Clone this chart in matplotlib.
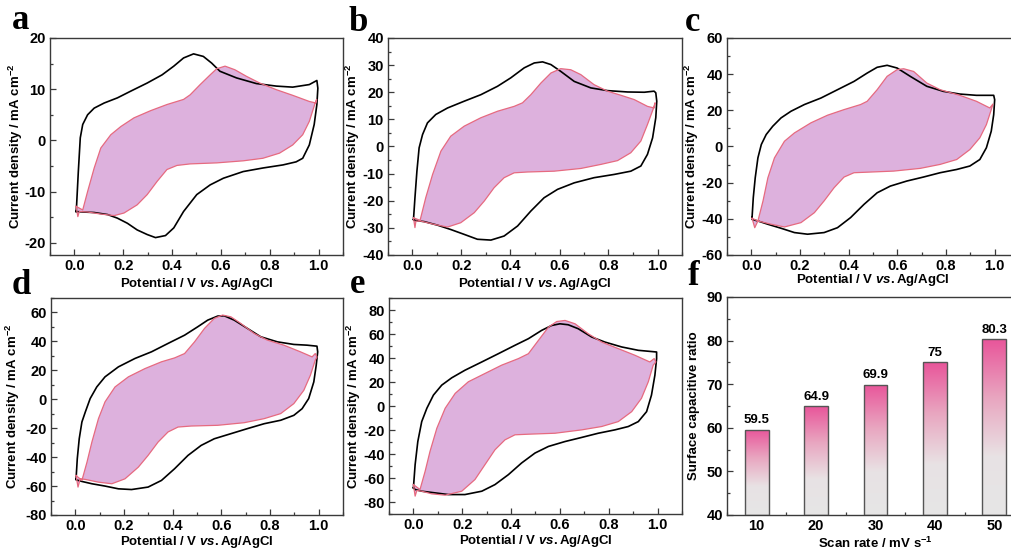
import numpy as np
import matplotlib
matplotlib.use("Agg")
import matplotlib.pyplot as plt
from matplotlib.colors import LinearSegmentedColormap
from matplotlib.ticker import MultipleLocator

plt.rcParams['font.family'] = ['Liberation Sans', 'DejaVu Sans']
plt.rcParams['font.weight'] = 'bold'
plt.rcParams['axes.unicode_minus'] = False
plt.rcParams['mathtext.fontset'] = 'custom'
plt.rcParams['mathtext.default'] = 'regular'
plt.rcParams['mathtext.it'] = 'Liberation Sans:italic:bold'
plt.rcParams['mathtext.rm'] = 'Liberation Sans:bold'
plt.rcParams['mathtext.bf'] = 'Liberation Sans:bold'

# ---------------- data ----------------
a_black_x = [0.007,0.009,0.016,0.024,0.034,0.054,0.081,0.122,0.176,0.230,0.298,0.359,0.407,0.447,0.488,0.528,0.562,0.596,0.664,0.745,0.827,0.894,0.962,0.993,
             0.997,0.993,0.982,0.962,0.935,0.908,0.854,0.772,0.691,0.610,0.556,0.501,0.447,0.407,0.373,0.332,0.298,0.257,0.217,0.176,0.136,0.081,0.034,0.007]
a_black_y = [-13.9,-12.6,-6.1,0.5,3.1,5.0,6.3,7.3,8.3,9.6,11.2,12.8,14.5,16.1,16.9,16.4,15.1,13.5,12.2,11.1,10.6,10.4,10.9,11.7,
             10.2,7.0,3.1,-0.9,-3.5,-4.2,-4.8,-5.4,-6.1,-7.4,-8.7,-10.6,-13.9,-17.1,-18.6,-19.0,-18.4,-17.5,-16.2,-15.2,-14.5,-14.1,-14.0,-13.9]
a_pink_x = [0.007,0.034,0.054,0.081,0.108,0.149,0.190,0.244,0.312,0.379,0.447,0.474,0.515,0.556,0.583,0.617,0.657,0.705,0.759,0.827,0.894,0.962,0.989,0.992,
            0.986,0.962,0.935,0.894,0.840,0.772,0.691,0.583,0.474,0.420,0.379,0.339,0.298,0.257,0.203,0.163,0.108,0.054,0.020,0.014,0.007]
a_pink_y = [-12.9,-13.6,-10.0,-5.4,-1.5,1.1,2.7,4.4,5.8,7.0,8.0,8.9,10.9,12.8,14.0,14.5,13.8,12.5,11.2,9.9,8.8,7.6,7.3,8.0,
            7.3,3.7,1.1,-0.9,-2.5,-3.5,-4.0,-4.4,-4.6,-4.9,-5.7,-8.0,-10.6,-12.6,-14.2,-14.7,-14.4,-14.0,-13.9,-14.9,-12.9]

b_black_x = [0.004,0.010,0.018,0.027,0.041,0.061,0.095,0.143,0.211,0.279,0.347,0.401,0.456,0.497,0.531,0.565,0.605,0.660,0.728,0.796,0.878,0.946,0.986,0.993,
             0.997,0.993,0.980,0.959,0.932,0.891,0.823,0.741,0.660,0.592,0.537,0.483,0.429,0.374,0.320,0.265,0.211,0.156,0.102,0.048,0.007]
b_black_y = [-26.9,-18.9,-9.1,-0.5,4.4,8.7,11.8,14.2,16.7,19.1,22.2,25.3,29.0,30.8,31.2,30.2,27.7,24.0,21.6,20.6,20.1,20.0,20.4,19.8,
             16.7,10.6,3.2,-2.9,-7.2,-9.1,-10.3,-11.5,-13.4,-15.8,-18.9,-23.8,-29.3,-33.0,-34.5,-34.2,-32.4,-30.6,-29.0,-27.7,-27.2]
b_pink_x = [0.004,0.031,0.054,0.082,0.116,0.156,0.211,0.279,0.347,0.415,0.449,0.483,0.524,0.565,0.605,0.646,0.687,0.741,0.796,0.850,0.905,0.959,0.986,0.990,
            0.984,0.959,0.932,0.891,0.837,0.769,0.687,0.578,0.469,0.415,0.374,0.333,0.293,0.252,0.197,0.143,0.088,0.034,0.014,0.010,0.004]
b_pink_y = [-26.3,-27.2,-18.9,-10.3,-1.7,3.8,7.5,10.6,13.0,14.8,16.1,19.1,23.4,27.1,28.7,28.3,26.5,22.8,20.4,18.9,17.3,14.8,14.2,16.1,
            14.2,8.1,2.0,-2.3,-5.2,-6.6,-8.1,-9.1,-9.4,-9.7,-11.5,-15.2,-20.1,-24.4,-28.1,-29.7,-28.7,-27.5,-27.5,-29.9,-26.3]

c_black_x = [0.003,0.008,0.016,0.027,0.041,0.061,0.088,0.122,0.163,0.218,0.286,0.354,0.422,0.476,0.517,0.558,0.599,0.653,0.721,0.789,0.857,0.925,0.996,
             1.0,0.996,0.986,0.966,0.939,0.898,0.844,0.776,0.707,0.639,0.571,0.517,0.463,0.408,0.354,0.299,0.231,0.177,0.122,0.068,0.027,0.003]
c_black_y = [-39.3,-28.3,-17.3,-6.3,1.1,6.6,11.2,15.8,19.5,23.2,26.8,31.4,36.0,40.6,43.8,44.9,43.4,38.8,33.3,30.5,29.0,28.3,28.3,
             25.9,17.6,8.5,-0.7,-7.2,-10.8,-12.7,-14.5,-16.9,-19.1,-21.9,-25.6,-32.0,-39.3,-44.9,-47.6,-48.5,-47.6,-45.2,-43.0,-41.2,-40.3]
c_pink_x = [0.003,0.027,0.048,0.068,0.095,0.136,0.177,0.245,0.313,0.381,0.449,0.476,0.517,0.558,0.599,0.626,0.667,0.721,0.776,0.857,0.925,0.980,0.993,
            0.986,0.966,0.939,0.898,0.844,0.776,0.694,0.585,0.476,0.422,0.381,0.340,0.299,0.259,0.204,0.136,0.082,0.027,0.014,0.003]
c_pink_y = [-39.7,-41.2,-30.1,-17.3,-6.3,2.9,7.5,13.1,17.3,20.4,23.2,25.0,31.4,38.8,42.5,43.0,41.5,35.1,31.4,28.3,25.0,21.3,23.5,
            20.4,12.1,4.8,-1.7,-7.2,-9.9,-12.1,-13.6,-14.2,-14.5,-16.9,-22.8,-30.1,-36.6,-42.1,-44.5,-43.0,-41.2,-44.9,-39.7]

d_black_x = [0.003,0.008,0.016,0.027,0.041,0.061,0.088,0.122,0.177,0.245,0.313,0.381,0.449,0.503,0.544,0.585,0.612,0.653,0.707,0.762,0.830,0.898,0.952,0.993,
             0.996,0.990,0.980,0.959,0.932,0.898,0.844,0.776,0.707,0.639,0.571,0.517,0.463,0.408,0.354,0.299,0.231,0.177,0.122,0.068,0.027,0.003]
d_black_y = [-55.0,-41.1,-27.3,-15.7,-8.8,0.5,8.5,15.5,22.4,28.2,32.8,38.6,44.3,50.1,54.7,57.5,57.7,54.7,49.0,43.2,39.7,37.9,37.4,36.7,
             32.8,23.6,12.0,0.5,-6.5,-11.1,-14.5,-16.9,-20.3,-23.8,-27.3,-31.9,-38.8,-48.0,-56.1,-60.7,-62.4,-61.9,-60.0,-58.4,-56.8,-55.7]
d_pink_x = [0.003,0.027,0.048,0.068,0.095,0.122,0.163,0.218,0.286,0.354,0.408,0.449,0.490,0.531,0.571,0.605,0.639,0.680,0.735,0.789,0.857,0.925,0.973,0.986,0.993,
            0.986,0.966,0.939,0.898,0.844,0.776,0.694,0.585,0.476,0.422,0.381,0.340,0.299,0.259,0.204,0.150,0.095,0.041,0.020,0.011,0.003]
d_pink_y = [-52.7,-56.1,-43.4,-29.6,-13.4,-1.8,8.5,15.5,21.2,25.9,28.6,31.6,39.7,49.0,55.9,58.2,57.0,52.4,45.5,40.9,37.4,32.8,29.3,31.6,29.3,
            27.0,16.6,6.2,-3.0,-9.9,-13.4,-16.2,-18.0,-18.5,-19.2,-22.6,-29.6,-38.8,-46.9,-55.0,-58.4,-57.3,-55.4,-55.0,-60.7,-52.7]

e_black_x = [0.0,0.007,0.018,0.034,0.055,0.082,0.116,0.157,0.211,0.280,0.348,0.416,0.471,0.525,0.566,0.600,0.634,0.675,0.730,0.784,0.853,0.921,0.996,
             0.996,0.989,0.975,0.955,0.921,0.880,0.825,0.757,0.689,0.621,0.553,0.498,0.443,0.389,0.334,0.280,0.211,0.143,0.089,0.034,0.007]
e_black_y = [-68.2,-48.9,-29.6,-13.0,-1.9,9.1,17.4,23.5,29.8,36.7,43.6,50.6,56.1,63.0,67.1,68.5,67.7,64.4,57.5,53.3,49.2,46.4,45.0,
             39.5,25.7,9.1,-4.7,-13.0,-17.1,-19.9,-22.7,-26.2,-29.6,-33.7,-39.2,-47.5,-57.2,-65.5,-71.0,-73.8,-73.8,-72.4,-71.0,-69.6]
e_pink_x = [0.0,0.027,0.048,0.068,0.096,0.130,0.171,0.225,0.293,0.361,0.430,0.471,0.512,0.553,0.587,0.621,0.662,0.716,0.771,0.839,0.907,0.968,0.986,0.993,
            0.982,0.962,0.934,0.894,0.839,0.771,0.689,0.580,0.471,0.416,0.375,0.334,0.293,0.252,0.198,0.130,0.075,0.034,0.014,0.007,0.0]
e_pink_y = [-65.5,-69.6,-54.4,-37.8,-18.5,-1.9,10.5,20.2,27.1,34.0,39.5,43.6,54.7,65.7,70.4,71.3,68.5,60.2,53.3,47.8,42.3,36.7,39.5,36.7,
            34.0,20.2,6.4,-4.7,-13.0,-17.1,-19.9,-22.7,-23.5,-24.0,-28.2,-36.5,-48.9,-61.3,-71.0,-74.3,-73.2,-71.0,-70.4,-75.1,-65.5]

scan_rates = [10, 20, 30, 40, 50]
surface_ratio = [59.5, 64.9, 69.9, 75, 80.3]
ratio_labels = ['59.5', '64.9', '69.9', '75', '80.3']

# ---------------- styling ----------------
W, H = 1012, 552
fig = plt.figure(figsize=(W / 100, H / 100), dpi=100)

def rect(l, t, r, b):
    return [l / W, 1 - b / H, (r - l) / W, (b - t) / H]

SPINE = '#3a3a3a'
FILL = '#DDB1DD'
EDGE = '#E66A80'
TICK_FS = 10.5
LAB_FS = 9.5

def style(ax, ylab_x, xlab_y):
    for s in ax.spines.values():
        s.set_color(SPINE)
        s.set_linewidth(1.0)
    ax.tick_params(which='both', direction='in', top=False, right=False,
                   labelsize=TICK_FS, color=SPINE, width=0.9)
    ax.tick_params(which='major', length=4, pad=3)
    ax.tick_params(which='minor', length=2.5)
    for lab in ax.get_xticklabels() + ax.get_yticklabels():
        lab.set_fontweight('bold')
    ax.yaxis.set_label_coords(ylab_x, 0.5)
    ax.xaxis.set_label_coords(0.5, xlab_y)

cv_panels = [
    ('a', (50, 38, 343, 255), a_black_x, a_black_y, a_pink_x, a_pink_y, (-22.4, 20), 10, 5, -0.085, -0.095, (12, 29)),
    ('b', (388, 38, 682, 255), b_black_x, b_black_y, b_pink_x, b_pink_y, (-40, 40), 10, 5, -0.090, -0.095, (349, 31)),
    ('c', (727, 38, 1019, 255), c_black_x, c_black_y, c_pink_x, c_pink_y, (-60, 60), 20, 10, -0.09, -0.080, (685, 31)),
    ('d', (51, 298, 343, 515), d_black_x, d_black_y, d_pink_x, d_pink_y, (-80, 70), 20, 10, -0.10, -0.086, (12, 294)),
    ('e', (389, 298, 682, 514), e_black_x, e_black_y, e_pink_x, e_pink_y, (-90, 90), 20, 10, -0.09, -0.088, (350, 293)),
]

for letter, box, bx, by, px, py, ylim, major, minor, ylx, xly, lpos in cv_panels:
    ax = fig.add_axes(rect(*box))
    ax.fill(px, py, facecolor=FILL, edgecolor='none', zorder=1)
    ax.plot(bx + bx[:1], by + by[:1], color='black', lw=1.2, zorder=2, solid_joinstyle='round')
    ax.plot(px + px[:1], py + py[:1], color=EDGE, lw=0.9, zorder=3, solid_joinstyle='round')
    ax.set_xlim(-0.1, 1.1)
    ax.set_ylim(*ylim)
    ax.xaxis.set_major_locator(MultipleLocator(0.2))
    ax.xaxis.set_minor_locator(MultipleLocator(0.1))
    ax.xaxis.set_major_formatter(matplotlib.ticker.FormatStrFormatter('%.1f'))
    ax.yaxis.set_major_locator(MultipleLocator(major))
    ax.yaxis.set_minor_locator(MultipleLocator(minor))
    ax.set_ylabel('Current density / mA cm$^{-2}$', fontsize=LAB_FS, fontweight='bold')
    ax.set_xlabel(r'Potential / V $\mathit{vs.}$Ag/AgCl', fontsize=LAB_FS, fontweight='bold')
    style(ax, ylx, xly)
    fig.text(lpos[0] / W, 1 - lpos[1] / H, letter, fontsize=25, fontweight='bold',
             family='Liberation Serif', ha='left', va='baseline')

# ---------------- panel f ----------------
axf = fig.add_axes(rect(727, 297, 1024, 515))
cmap = LinearSegmentedColormap.from_list('g', ['#E6E6E6', '#E8E2E4', '#E9A6C0', '#E8559A'])
bars = axf.bar(scan_rates, [v - 40 for v in surface_ratio], width=4, bottom=40,
               facecolor='none', edgecolor='#555555', linewidth=1.0, zorder=3)
grad = np.linspace(0, 1, 256).reshape(-1, 1)
for bar in bars:
    x0, y0 = bar.get_x(), bar.get_y()
    w, h = bar.get_width(), bar.get_height()
    im = axf.imshow(grad, cmap=cmap, origin='lower', aspect='auto',
                    extent=[x0, x0 + w, y0, y0 + h], zorder=2)
    im.set_clip_path(bar)
for x, v, t in zip(scan_rates, surface_ratio, ratio_labels):
    axf.text(x, v + 0.8, t, ha='center', va='bottom', fontsize=9.5, fontweight='bold')
axf.set_xlim(5, 55)
axf.set_ylim(40, 90)
axf.xaxis.set_major_locator(MultipleLocator(10))
axf.xaxis.set_minor_locator(MultipleLocator(5))
axf.yaxis.set_major_locator(MultipleLocator(10))
axf.yaxis.set_minor_locator(MultipleLocator(5))
axf.set_ylabel('Surface capacitive ratio', fontsize=LAB_FS, fontweight='bold')
axf.set_xlabel('Scan rate / mV s$^{-1}$', fontsize=LAB_FS, fontweight='bold')
style(axf, -0.09, -0.095)
fig.text(688 / W, 1 - 285 / H, 'f', fontsize=25, fontweight='bold',
         family='Liberation Serif', ha='left', va='baseline')

fig.savefig('out.png', dpi=100)
